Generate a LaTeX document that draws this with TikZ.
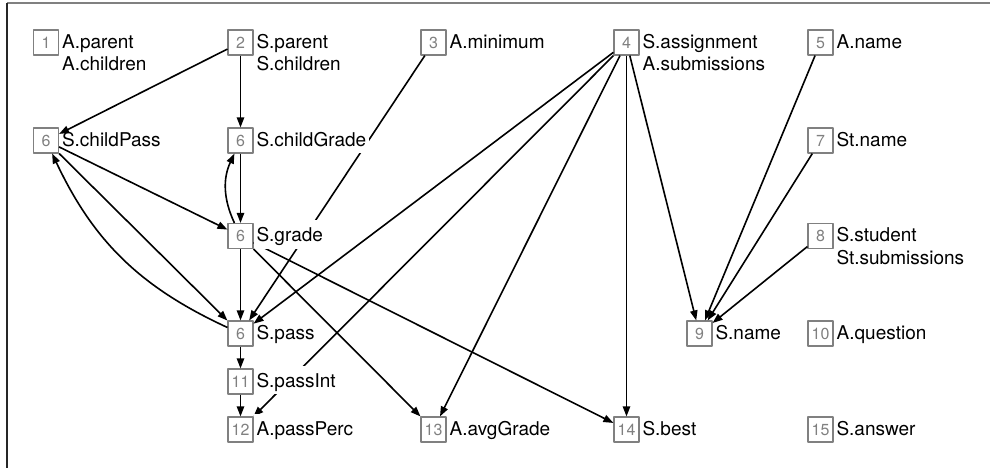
\documentclass[tikz,border=0pt]{standalone}
\usepackage{fontspec}
\setmainfont{TeX Gyre Heros}
\usetikzlibrary{arrows.meta}
\begin{document}
\begin{tikzpicture}[x=0.75pt,y=-0.75pt,line join=round,>={Triangle[length=7.5pt,width=5.5pt]},
	box/.style={draw=gray,line width=1.1pt,text=gray,minimum size=18.5pt,inner sep=0pt,text height=8.4pt,text depth=0pt,font=\fontsize{12}{14}\selectfont},
	lbl/.style={anchor=base west,inner xsep=2pt,inner ysep=0pt,font=\fontsize{14.25}{17}\selectfont},
	lbltwo/.style={lbl,align=left,yshift=-17pt},
	cover/.style={fill=white,text height=13pt,text depth=2.5pt,inner ysep=3pt},
	edge/.style={->,line width=1.2pt}]
	\useasboundingbox (0,0) rectangle (990,468);
	\draw[gray,line width=1.1pt] (7,3) -- (990,3);
	\draw[black!85,line width=1.1pt] (7,3) -- (7,468);
	\node[box] (n1) at (46,42.5) {1};
	\node[box] (n2) at (240.5,42.5) {2};
	\node[box] (n3) at (433.5,42.5) {3};
	\node[box] (n4) at (626.5,42.5) {4};
	\node[box] (n5) at (820.5,42.5) {5};
	\node[box] (n6a) at (46,140.5) {6};
	\node[box] (n6b) at (240.5,140.5) {6};
	\node[box] (n7) at (820.5,140.5) {7};
	\node[box] (n6c) at (240.5,236) {6};
	\node[box] (n8) at (820.5,236) {8};
	\node[box] (n6d) at (240.5,333.5) {6};
	\node[box] (n9) at (699.5,333.5) {9};
	\node[box] (n10) at (820.5,333.5) {10};
	\node[box] (n11) at (240.5,381.5) {11};
	\node[box] (n12) at (240.5,429.5) {12};
	\node[box] (n13) at (433.5,429.5) {13};
	\node[box] (n14) at (626.5,429.5) {14};
	\node[box] (n15) at (820.5,429.5) {15};
	% these run behind the labels
	\draw[edge] (n3) -- (n6d);
	\draw[edge] (n4) -- (n12);
	\draw[edge] (n6c) -- (n14);
	\node[lbltwo] (t1) at (n1.base east) {A.parent\\A.children};
	\node[lbltwo] (t2) at (n2.base east) {S.parent\\S.children};
	\node[lbl,cover] (t3) at (n3.base east) {A.minimum};
	\node[lbltwo] (t4) at (n4.base east) {S.assignment\\A.submissions};
	\node[lbl,cover] (t5) at (n5.base east) {A.name};
	\node[lbl,cover] (t6a) at (n6a.base east) {S.childPass};
	\node[lbl,cover] (t6b) at (n6b.base east) {S.childGrade};
	\node[lbl,cover] (t7) at (n7.base east) {St.name};
	\node[lbl,cover] (t6c) at (n6c.base east) {S.grade};
	\node[lbltwo] (t8) at (n8.base east) {S.student\\St.submissions};
	\node[lbl,cover] (t6d) at (n6d.base east) {S.pass};
	\node[lbl,cover] (t9) at (n9.base east) {S.name};
	\node[lbl,cover] (t10) at (n10.base east) {A.question};
	\node[lbl,cover] (t11) at (n11.base east) {S.passInt};
	\node[lbl,cover] (t12) at (n12.base east) {A.passPerc};
	\node[lbl,cover] (t13) at (n13.base east) {A.avgGrade};
	\node[lbl,cover] (t14) at (n14.base east) {S.best};
	\node[lbl,cover] (t15) at (n15.base east) {S.answer};
	\draw[edge] (n2) -- (n6a);
	\draw[edge] (n2) -- (n6b);
	\draw[edge] (n6a) -- (n6c);
	\draw[edge] (n6a) -- (n6d);
	\draw[edge] (n6d) to[bend left=20] (n6a);
	\draw[edge] (n6b) -- (n6c);
	\draw[edge] (n6c) to[bend left=25] (n6b);
	\draw[edge] (n6c) -- (n6d);
	\draw[edge] (n6c) -- (n13);
	\draw[edge] (n4) -- (n6d);
	\draw[edge] (n4) -- (n13);
	\draw[edge] (n4) -- (n14);
	\draw[edge] (n4) -- (n9);
	\draw[edge] (n5) -- (n9);
	\draw[edge] (n7) -- (n9);
	\draw[edge] (n8) -- (n9);
	\draw[edge] (n6d) -- (n11);
	\draw[edge] (n11) -- (n12);
\end{tikzpicture}
\end{document}
